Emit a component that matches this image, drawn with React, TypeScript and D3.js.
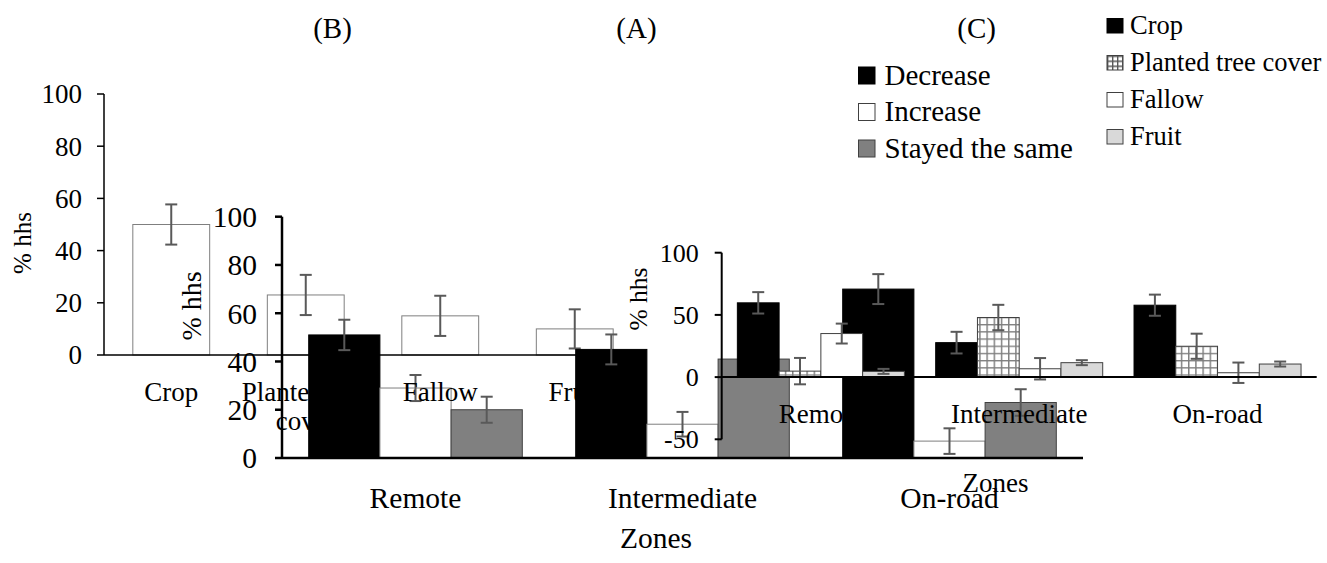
import React from 'react'
import * as d3 from 'd3'

// (B) land uses
const landUses = ['Crop', 'Planted tree cover', 'Fallow', 'Fruit']
const bValues = [50, 23, 15, 10]
const bErrors = [7.7, 7.7, 7.7, 7.5]
const bTicks = [0, 20, 40, 60, 80, 100]

// (A) change by zone
const zones = ['Remote', 'Intermediate', 'On-road']
const changes = ['Decrease', 'Increase', 'Stayed the same']
const aDecrease = [51, 45, 70]
const aIncrease = [29, 14, 7]
const aSame = [20, 41, 23]
const aDecreaseErr = [6.3, 6.2, 6.2]
const aIncreaseErr = [5.4, 5.1, 5.3]
const aSameErr = [5.4, 5.5, 5.5]
const aTicks = [0, 20, 40, 60, 80, 100]

// (C) land use by zone
const cCrop = [59.7, 27.7, 57.8]
const cPlanted = [4.8, 47.9, 24.8]
const cFallow = [35, 6.7, 3.5]
const cFruit = [4.6, 11.6, 10.5]
const cCropErr = [8.6, 8.7, 8.5]
const cPlantedErr = [10.6, 10.2, 10.1]
const cFallowErr = [8, 8.6, 8.2]
const cFruitErr = [2, 2, 2]
const cTicks = [-50, 0, 50, 100]

const font = '"Liberation Serif", "Times New Roman", serif'
const errColor = '#595959'

const wrap = (s: string, max = 12) => {
  const lines: string[] = []
  let cur = ''
  s.split(' ').forEach(w => {
    const next = cur ? cur + ' ' + w : w
    if (next.length > max && cur) { lines.push(cur); cur = w } else cur = next
  })
  lines.push(cur)
  return lines
}

type Style = { fill: string, stroke: string }

const ErrBar = ({ cx, y, v, e }: any) => (
  <g stroke={errColor} strokeWidth={2}>
    <line x1={cx} x2={cx} y1={y(v - e)} y2={y(v + e)} />
    <line x1={cx - 6} x2={cx + 6} y1={y(v - e)} y2={y(v - e)} />
    <line x1={cx - 6} x2={cx + 6} y1={y(v + e)} y2={y(v + e)} />
  </g>
)

const groupBars = (x: any, names: string[], values: number[][], errs: number[][], y: any, styles: Style[], gap = 0.75) => {
  const bw = x.bandwidth()
  const w = bw / (names.length + gap)
  const inner = d3.scaleBand(names, [0, w * names.length])
  const bars: any[] = []
  const errors: any[] = []
  x.domain().forEach((cat: string, ci: number) => {
    names.forEach((s, si) => {
      const v = values[si][ci]
      const bx = x(cat) + (bw - w * names.length) / 2 + inner(s)
      bars.push(<rect key={cat + s} x={bx} width={w} y={y(Math.max(v, 0))} height={Math.abs(y(v) - y(0))}
        fill={styles[si].fill} stroke={styles[si].stroke} strokeWidth={1} />)
      errors.push(<ErrBar key={cat + s} cx={bx + w / 2} y={y} v={v} e={errs[si][ci]} />)
    })
  })
  return [bars, errors]
}

const YAxis = ({ x, y, ticks, size, labelGap, x2, width }: any) => (
  <g fontFamily={font} fontSize={size}>
    <line x1={x} x2={x} y1={y(d3.min(ticks))} y2={y(d3.max(ticks))} stroke="#000" strokeWidth={width} />
    <line x1={x} x2={x2} y1={y(0)} y2={y(0)} stroke="#000" strokeWidth={width} />
    {ticks.map((t: number) => (
      <g key={t}>
        <line x1={x - 7} x2={x} y1={y(t)} y2={y(t)} stroke="#000" strokeWidth={width} />
        <text x={x - labelGap} y={y(t)} dy="0.35em" textAnchor="end">{t}</text>
      </g>
    ))}
  </g>
)

const YTitle = ({ x, y, size }: any) => (
  <text transform={`translate(${x},${y}) rotate(-90)`} textAnchor="middle" dy="0.35em" fontFamily={font} fontSize={size}>% hhs</text>
)

const App = () => {
  // panel B
  const xB = d3.scaleBand(landUses, [104, 642])
  const yB = d3.scaleLinear([0, 100], [355, 94])
  const [bBars, bErrs] = groupBars(xB, ['v'], [bValues], [bErrors], yB, [{ fill: '#fff', stroke: '#7f7f7f' }])

  // panel A
  const xA = d3.scaleBand(zones, [282, 1083])
  const yA = d3.scaleLinear([0, 100], [458, 216.7])
  const [aBars, aErrs] = groupBars(xA, changes, [aDecrease, aIncrease, aSame], [aDecreaseErr, aIncreaseErr, aSameErr], yA,
    [{ fill: '#000', stroke: '#000' }, { fill: '#fff', stroke: '#7f7f7f' }, { fill: '#808080', stroke: '#404040' }])

  // panel C
  const xC = d3.scaleBand(zones, [721.7, 1316.7])
  const yC = d3.scaleLinear([-50, 100], [439.3, 252.7])
  const [cBars, cErrs] = groupBars(xC, landUses, [cCrop, cPlanted, cFallow, cFruit], [cCropErr, cPlantedErr, cFallowErr, cFruitErr], yC,
    [{ fill: '#000', stroke: '#000' }, { fill: 'url(#grid)', stroke: '#404040' }, { fill: '#fff', stroke: '#404040' }, { fill: '#d9d9d9', stroke: '#404040' }])

  const legendA = [{ fill: '#000', stroke: '#000' }, { fill: '#fff', stroke: '#404040' }, { fill: '#808080', stroke: '#404040' }]
  const legendC = [{ fill: '#000', stroke: '#000' }, { fill: 'url(#gridSmall)', stroke: '#404040' }, { fill: '#fff', stroke: '#404040' }, { fill: '#d9d9d9', stroke: '#404040' }]

  return (
    <svg width={1327} height={563} style={{ position: 'absolute', left: 0, top: 0, background: '#fff' }}>
      <defs>
        <pattern id="grid" width={7.2} height={7.2} patternUnits="userSpaceOnUse">
          <rect width={7.2} height={7.2} fill="#fff" />
          <path d="M0.7 0V7.2M0 0.7H7.2" stroke="#7f7f7f" strokeWidth={1.5} />
        </pattern>
        <pattern id="gridSmall" width={5} height={5} patternUnits="userSpaceOnUse">
          <rect width={5} height={5} fill="#fff" />
          <path d="M0.7 0V5M0 0.7H5" stroke="#595959" strokeWidth={1.4} />
        </pattern>
      </defs>

      {/* (B) */}
      <g>
        {bBars}
        {bErrs}
        <YAxis x={104} y={yB} ticks={bTicks} size={27} labelGap={22} x2={642} width={1.5} />
        <YTitle x={22} y={243} size={25} />
      </g>

      {/* (A) */}
      <g>
        {aBars}
        {aErrs}
        <YAxis x={282} y={yA} ticks={aTicks} size={29.5} labelGap={25} x2={1083} width={2.5} />
        <YTitle x={191} y={306} size={28} />
        <g fontFamily={font} fontSize={29.5} textAnchor="middle">
          {zones.map(z => <text key={z} x={xA(z)! + xA.bandwidth() / 2} y={508}>{z}</text>)}
          <text x={656} y={548}>Zones</text>
        </g>
      </g>

      {/* B category labels */}
      <g fontFamily={font} fontSize={27} textAnchor="middle">
        {landUses.map(c => (
          <text key={c} x={xB(c)! + xB.bandwidth() / 2} y={401}>
            {wrap(c).map((l, i) => <tspan key={i} x={xB(c)! + xB.bandwidth() / 2} dy={i ? 29 : 0}>{l}</tspan>)}
          </text>
        ))}
      </g>

      {/* (C) */}
      <g>
        {cBars}
        {cErrs}
        <YAxis x={721.7} y={yC} ticks={cTicks} size={26} labelGap={23} x2={1316.7} width={2} />
        <YTitle x={638} y={299} size={25.5} />
        <g fontFamily={font} fontSize={27} textAnchor="middle">
          {zones.map(z => <text key={z} x={xC(z)! + xC.bandwidth() / 2} y={422.7}>{z}</text>)}
          <text x={995.5} y={491.7}>Zones</text>
        </g>
      </g>

      {/* titles */}
      <g fontFamily={font} fontSize={29} textAnchor="middle">
        <text x={332.5} y={38}>(B)</text>
        <text x={636.5} y={38}>(A)</text>
        <text x={976.7} y={38}>(C)</text>
      </g>

      {/* legends */}
      <g fontFamily={font} fontSize={29}>
        {changes.map((s, i) => (
          <g key={s} transform={`translate(858.5,${67 + i * 36.5})`}>
            <rect width={16.5} height={17} fill={legendA[i].fill} stroke={legendA[i].stroke} />
            <text x={26} y={17.5}>{s}</text>
          </g>
        ))}
      </g>
      <g fontFamily={font} fontSize={26.5}>
        {landUses.map((s, i) => (
          <g key={s} transform={`translate(1107,${18.5 + i * 37})`}>
            <rect width={16} height={14.5} fill={legendC[i].fill} stroke={legendC[i].stroke} />
            <text x={23} y={15}>{s}</text>
          </g>
        ))}
      </g>
    </svg>
  )
}

export default App
